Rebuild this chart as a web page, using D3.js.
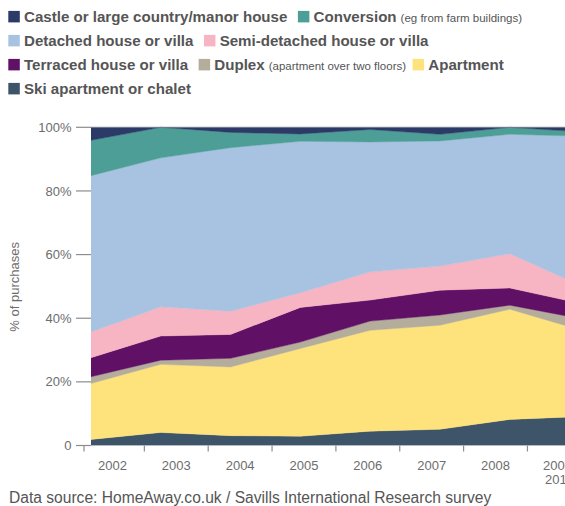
<!DOCTYPE html>
<html>
<head>
<meta charset="utf-8">
<script src="https://cdn.jsdelivr.net/npm/d3@7"></script>
<style>
  html, body { margin: 0; padding: 0; background: #fff; }
  svg { display: block; font-family: "Liberation Sans", Arial, Helvetica, sans-serif; }
</style>
</head>
<body>
<svg id="chart" width="565" height="506"></svg>
<script>
// Survey years (last period spans two years)
const years = ["2002", "2003", "2004", "2005", "2006", "2007", "2008", "2009/2010"];
const yearLabels = [["2002"], ["2003"], ["2004"], ["2005"], ["2006"], ["2007"], ["2008"], ["2009/", "2010"]];

// Share of purchases by property type, % (stacked bottom to top)
const ski        = [1.9, 4.1, 3.1, 2.9, 4.5, 5.1, 8.2, 9.1];
const apartment  = [17.6, 21.4, 21.6, 27.6, 31.7, 32.7, 34.6, 27.3];
const duplex     = [2.1, 1.3, 2.7, 2.0, 2.9, 3.2, 1.3, 3.5];
const terraced   = [6.0, 7.6, 7.5, 10.9, 6.6, 7.8, 5.4, 4.8];
const semi       = [8.1, 9.2, 7.3, 4.6, 8.9, 7.6, 10.8, 5.7];
const detached   = [49.1, 46.8, 51.4, 47.6, 40.8, 39.3, 37.5, 46.8];
const conversion = [11.1, 9.6, 4.8, 2.3, 3.9, 2.1, 2.2, 1.4];
const castle     = [4.1, 0.0, 1.6, 2.1, 0.7, 2.2, 0.0, 1.4];

const yTicks = [0, 20, 40, 60, 80, 100];

const series = [
  { key: "ski",        name: "Ski apartment or chalet",             note: "",                               color: "#3d5469", values: ski },
  { key: "apartment",  name: "Apartment",                           note: "",                               color: "#fee27b", values: apartment },
  { key: "duplex",     name: "Duplex",                              note: "(apartment over two floors)",    color: "#b4ad9b", values: duplex },
  { key: "terraced",   name: "Terraced house or villa",             note: "",                               color: "#601166", values: terraced },
  { key: "semi",       name: "Semi-detached house or villa",        note: "",                               color: "#f7b4c2", values: semi },
  { key: "detached",   name: "Detached house or villa",             note: "",                               color: "#a8c3e1", values: detached },
  { key: "conversion", name: "Conversion",                          note: "(eg from farm buildings)",       color: "#4e9e98", values: conversion },
  { key: "castle",     name: "Castle or large country/manor house", note: "",                               color: "#2b3a66", values: castle }
];

// Legend rows, listed by series key
const legendRows = [
  ["castle", "conversion"],
  ["detached", "semi"],
  ["terraced", "duplex", "apartment"],
  ["ski"]
];

const svg = d3.select("#chart");
const plot = { left: 91, right: 565, top: 127.3, bottom: 445.5 };

// Table for the stack layout
const table = years.map((yr, i) => {
  const row = { year: yr };
  series.forEach(s => { row[s.key] = s.values[i]; });
  return row;
});
const stacked = d3.stack().keys(series.map(s => s.key))(table);

const x = d3.scalePoint().domain(years).range([plot.left, plot.left + 7 * 69.8]);
const xBand = d3.scaleBand().domain(years).range([80.5, 80.5 + 8 * 63.85]);
const y = d3.scaleLinear().domain([0, 100]).range([plot.bottom, plot.top]);

svg.append("defs").append("clipPath").attr("id", "plotClip")
  .append("rect")
  .attr("x", plot.left).attr("y", plot.top - 1)
  .attr("width", plot.right - plot.left).attr("height", plot.bottom - plot.top + 1);

const area = d3.area()
  .x(d => x(d.data.year))
  .y0(d => y(d[0]))
  .y1(d => y(d[1]));

const colorOf = Object.fromEntries(series.map(s => [s.key, s.color]));

svg.append("g").attr("clip-path", "url(#plotClip)")
  .selectAll("path")
  .data(stacked)
  .join("path")
  .attr("d", area)
  .attr("fill", d => colorOf[d.key])
  .attr("stroke", d => colorOf[d.key])
  .attr("stroke-width", 0.4);

// faint rule along the 100% line
svg.append("line")
  .attr("x1", plot.left).attr("x2", plot.right)
  .attr("y1", y(100)).attr("y2", y(100))
  .attr("stroke", "#8a8f9a").attr("stroke-width", 1).attr("opacity", 0.7);

// Y axis
const yAxis = svg.append("g");
yAxis.selectAll("line")
  .data(yTicks)
  .join("line")
  .attr("x1", 76).attr("x2", plot.left)
  .attr("y1", d => y(d)).attr("y2", d => y(d))
  .attr("stroke", "#8c8c8c").attr("stroke-width", 1.2);
yAxis.selectAll("text")
  .data(yTicks)
  .join("text")
  .attr("x", 71.5)
  .attr("y", d => y(d) + 4.6)
  .attr("text-anchor", "end")
  .attr("font-size", 13)
  .attr("fill", "#6d6d6d")
  .text(d => d === 0 ? "0" : d + "%");

svg.append("text")
  .attr("transform", `translate(18.5, ${(plot.top + plot.bottom) / 2 + 0.5}) rotate(-90)`)
  .attr("text-anchor", "middle")
  .attr("font-size", 13)
  .attr("fill", "#6d6d6d")
  .text("% of purchases");

// X axis: ticks between periods, labels centred in each period
const xAxis = svg.append("g");
xAxis.selectAll("line")
  .data(years)
  .join("line")
  .attr("x1", d => xBand(d) + (d === years[0] ? 3.5 : 0))
  .attr("x2", d => xBand(d) + (d === years[0] ? 3.5 : 0))
  .attr("y1", plot.bottom).attr("y2", plot.bottom + 6)
  .attr("stroke", "#8c8c8c").attr("stroke-width", 1.2);
const xl = xAxis.selectAll("text")
  .data(years)
  .join("text")
  .attr("text-anchor", "middle")
  .attr("font-size", 13)
  .attr("fill", "#6d6d6d")
  .attr("transform", d => `translate(${xBand(d) + xBand.bandwidth() / 2}, 470)`);
xl.selectAll("tspan")
  .data((d, i) => yearLabels[i])
  .join("tspan")
  .attr("x", 0)
  .attr("dy", (d, j) => j === 0 ? 0 : 14)
  .text(d => d);

// Legend
const byKey = Object.fromEntries(series.map(s => [s.key, s]));
const legend = svg.append("g");
legendRows.forEach((row, r) => {
  const cy = 16.7 + r * 24;
  let cx = 8.3;
  row.forEach(key => {
    const s = byKey[key];
    legend.append("rect")
      .attr("x", cx).attr("y", cy - 5.8)
      .attr("width", 11.5).attr("height", 11.5)
      .attr("fill", s.color);
    cx += 15.7;
    const t = legend.append("text")
      .attr("x", cx).attr("y", cy + 5.4)
      .attr("fill", "#555555");
    t.append("tspan")
      .attr("font-size", 15.1).attr("font-weight", "bold")
      .text(s.name);
    if (s.note) {
      t.append("tspan")
        .attr("font-size", 11.5).attr("dx", 4)
        .text(s.note);
    }
    cx += t.node().getComputedTextLength() + 10.5;
  });
});

// Source line
svg.append("text")
  .attr("x", 9).attr("y", 503)
  .attr("font-size", 15.6)
  .attr("fill", "#555555")
  .text("Data source: HomeAway.co.uk / Savills International Research survey");
</script>
</body>
</html>
